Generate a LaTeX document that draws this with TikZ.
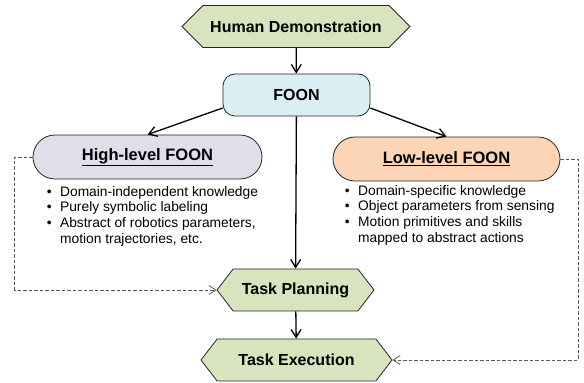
\documentclass[tikz,border=0pt]{standalone}
\usepackage{fontspec}
\setmainfont{Liberation Sans}
\usepackage{xcolor}
\usepackage{tikz}
\usetikzlibrary{shapes.symbols, shapes.misc, arrows.meta, positioning}
\definecolor{demogreen}{HTML}{D7E4BD}
\definecolor{foonblue}{HTML}{DAEEF3}
\definecolor{highlilac}{HTML}{E1DDEB}
\definecolor{lowpeach}{HTML}{FBD5B5}
\definecolor{linkgray}{HTML}{5A5A5A}
\newcommand{\bul}{\textbullet\hspace{8.5pt}}
\newcommand{\nobul}{\phantom{\textbullet}\hspace{8.5pt}}

\begin{document}
\begin{tikzpicture}[
    x=1pt, y=1pt,
    hexa/.style={signal, signal to=west and east, draw=black!85, fill=demogreen, line width=0.8pt, minimum height=42pt, inner sep=0pt, font=\fontsize{16}{19}\selectfont\bfseries},
    pill/.style={rounded rectangle, draw=black!85, line width=0.8pt, minimum height=44pt, inner sep=0pt, font=\fontsize{16.5}{19}\selectfont\bfseries},
    bullets/.style={anchor=north west, inner sep=0pt, align=left, font=\fontsize{13.8}{15.7}\selectfont},
    arrow/.style={-{Straight Barb[length=8pt, width=10pt]}, line width=1.3pt},
    dasharrow/.style={-{Straight Barb[length=7pt, width=9pt]}, linkgray, dash pattern=on 3.5pt off 2pt, line width=0.8pt}
]
\useasboundingbox (0,0) rectangle (584,383);

% Top
\node[hexa, minimum width=228pt, signal pointer angle=90] (demo) at (296,356.5) {Human Demonstration};
\node[rectangle, rounded corners=12pt, draw=black!85, fill=foonblue, line width=0.8pt, minimum width=147pt, minimum height=42pt, font=\fontsize{16}{19}\selectfont\bfseries] (foon) at (296.5,288) {FOON};

% Two levels
\node[pill, fill=highlilac, minimum width=229pt] (high) at (147.5,226) {\underline{High-level FOON}};
\node[pill, fill=lowpeach, minimum width=227pt] (low) at (446.5,224) {\underline{Low-level FOON}};

\node[bullets] (highnotes) at (46.6,197) {\bul Domain-independent knowledge\\
  \bul Purely symbolic labeling\\
  \bul Abstract of robotics parameters,\\
  \nobul motion trajectories, etc.};
\node[bullets] (lownotes) at (344.6,198) {\bul Domain-specific knowledge\\
  \bul Object parameters from sensing\\
  \bul Motion primitives and skills\\
  \nobul mapped to abstract actions};

% Bottom
\node[hexa, minimum width=157pt, signal pointer angle=105] (plan) at (295.5,93) {Task Planning};
\node[hexa, minimum width=191pt, signal pointer angle=105] (exec) at (296.5,23) {Task Execution};

% Connections
\draw[arrow] (demo) -- (foon);
\draw[arrow] (foon.190) -- (high.north);
\draw[arrow] (foon.350) -- (low.north);
\draw[arrow] (foon) -- (plan);
\draw[arrow] (plan) -- (exec);
\draw[dasharrow] (high.west) -- ++(-18,0) |- (plan.west);
\draw[dasharrow] (low.east) -- ++(18,0) |- (exec.east);

\end{tikzpicture}
\end{document}
